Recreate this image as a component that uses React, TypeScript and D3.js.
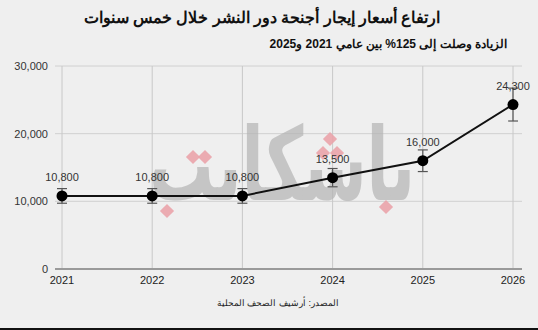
import React from "react";
import * as d3 from "d3";

const years = ["2021", "2022", "2023", "2024", "2025", "2026"];
const values = [10800, 10800, 10800, 13500, 16000, 24300];
const errors = [1080, 1080, 1080, 1350, 1600, 2430];
const yTicks = [0, 10000, 20000, 30000];
const title = "ارتفاع أسعار إيجار أجنحة دور النشر خلال خمس سنوات";
const subtitle = "الزيادة وصلت إلى 125% بين عامي 2021 و2025";
const source = "المصدر: أرشيف الصحف المحلية";

const W = 538;
const H = 330;

export default function App() {
  const x = d3.scalePoint<string>().domain(years).range([62, 513]);
  const y = d3.scaleLinear().domain([0, 30000]).range([269, 66]);
  const fmt = d3.format(",");
  const line = d3
    .line<number>()
    .x((_, i) => x(years[i]) as number)
    .y((d) => y(d));
  const font = "Arial, 'Liberation Sans', sans-serif";
  const dots: [number, number][] = [
    [193, 157], [205, 157], [167, 211], [330, 139], [323, 153], [337, 153], [386, 207],
  ];
  return (
    <svg
      width={W}
      height={H}
      style={{ position: "fixed", left: 0, top: 0, display: "block" }}
      fontFamily={font}
    >
      <rect x={0} y={0} width={W} height={H} fill="#efefef" />
      <rect x={0} y={328} width={W} height={2} fill="#111" />
      <text x={262} y={23} textAnchor="middle" fontSize={15.5} fontWeight="bold" fill="#111" direction="rtl">
        {title}
      </text>
      <text x={507} y={48} textAnchor="start" fontSize={12} fontWeight="bold" fill="#111" direction="rtl">
        {subtitle}
      </text>
      {/* gridlines */}
      {yTicks.map((t) => (
        <line key={t} x1={55} x2={522} y1={y(t)} y2={y(t)} stroke="#d0d0d0" strokeWidth={1} />
      ))}
      {years.map((yr) => (
        <line key={yr} x1={x(yr)} x2={x(yr)} y1={66} y2={269} stroke="#c8c8c8" strokeWidth={1} />
      ))}
      {/* watermark */}
      <g transform="translate(282,200) scale(0.52,0.82)">
        <text
          x={0}
          y={0}
          textAnchor="middle"
          fontSize={124}
          fontWeight="bold"
          fill="#b4b4b4"
          opacity={0.7}
          fontFamily="'DejaVu Sans', sans-serif"
          direction="rtl"
        >
          ٮاسكاٮٮ
        </text>
      </g>
      {dots.map(([cx, cy], i) => (
        <rect
          key={i}
          x={cx - 5}
          y={cy - 5}
          width={10}
          height={10}
          fill="#eaa3aa"
          opacity={0.9}
          transform={`rotate(45 ${cx} ${cy})`}
        />
      ))}
      <line x1={55} x2={522} y1={269} y2={269} stroke="#9a9a9a" strokeWidth={2} />
      {yTicks.map((t) => (
        <text key={t} x={48} y={y(t) + 4} textAnchor="end" fontSize={11} fill="#333">
          {fmt(t)}
        </text>
      ))}
      {years.map((yr) => (
        <text key={yr} x={x(yr)} y={284} textAnchor="middle" fontSize={11} fill="#222">
          {yr}
        </text>
      ))}
      {/* error bars */}
      {values.map((v, i) => {
        const cx = x(years[i]) as number;
        return (
          <g key={i} stroke="#555" strokeWidth={1.2}>
            <line x1={cx} x2={cx} y1={y(v + errors[i])} y2={y(v - errors[i])} />
            <line x1={cx - 5} x2={cx + 5} y1={y(v + errors[i])} y2={y(v + errors[i])} />
            <line x1={cx - 5} x2={cx + 5} y1={y(v - errors[i])} y2={y(v - errors[i])} />
          </g>
        );
      })}
      <path d={line(values) || ""} fill="none" stroke="#111" strokeWidth={2} />
      {values.map((v, i) => (
        <circle key={i} cx={x(years[i])} cy={y(v)} r={5.5} fill="#000" />
      ))}
      {values.map((v, i) => (
        <text
          key={i}
          x={x(years[i])}
          y={y(v) - 15}
          textAnchor="middle"
          fontSize={11}
          fill="#333"
        >
          {fmt(v)}
        </text>
      ))}
      <text x={278} y={306} textAnchor="middle" fontSize={9} fill="#222" direction="rtl">
        {source}
      </text>
    </svg>
  );
}
